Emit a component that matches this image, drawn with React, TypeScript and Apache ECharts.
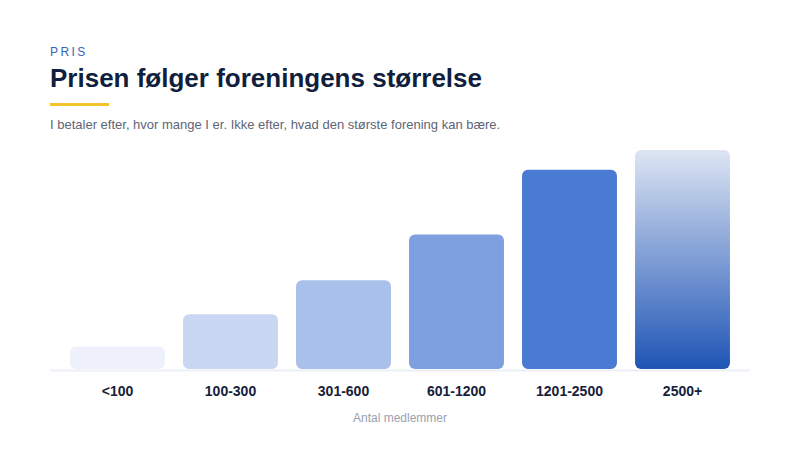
import React, { useEffect, useRef } from "react";
import * as echarts from "echarts";

const categories = ["<100", "100-300", "301-600", "601-1200", "1201-2500", "2500+"];
const values = [10.3, 25, 40.5, 61.4, 91, 100];
const barColors = ["#eef1fb", "#c9d7f2", "#a9c0ea", "#7fa0e0", "#4a7bd2", "gradient"];

const FONT = "Liberation Sans, Helvetica, Arial, sans-serif";

export default function App() {
  const ref = useRef<HTMLDivElement>(null);
  useEffect(() => {
    if (!ref.current) return;
    const chart = echarts.init(ref.current, null, { renderer: "svg" });
    const data = values.map((v, i) => ({
      value: v,
      itemStyle: {
        color:
          barColors[i] === "gradient"
            ? new echarts.graphic.LinearGradient(0, 0, 0, 1, [
                { offset: 0, color: "#dde5f3" },
                { offset: 1, color: "#1f55b5" },
              ])
            : barColors[i],
      },
    }));
    chart.setOption({
      animation: false,
      backgroundColor: "#ffffff",
      grid: { left: 61, right: 61, top: 150, bottom: 81, containLabel: false },
      xAxis: {
        type: "category",
        data: categories,
        axisLine: { show: false },
        axisTick: { show: false },
        axisLabel: {
          margin: 15,
          color: "#16203a",
          fontSize: 14,
          fontWeight: "bold",
          fontFamily: FONT,
        },
        name: "Antal medlemmer",
        nameLocation: "middle",
        nameGap: 43,
        nameTextStyle: { color: "#9aa0ad", fontSize: 12, fontFamily: FONT },
      },
      yAxis: {
        type: "value",
        min: 0,
        max: 100,
        show: false,
        splitLine: { show: false },
      },
      series: [
        {
          type: "bar",
          data,
          barCategoryGap: "16%",
          itemStyle: { borderRadius: 6 },
          z: 3,
        },
      ],
      graphic: [
        {
          type: "line",
          shape: { x1: 50, y1: 370.5, x2: 750, y2: 370.5 },
          style: { stroke: "#eceff5", lineWidth: 2 },
          z: 1,
        },
        {
          type: "text",
          left: 50,
          top: 46,
          style: {
            text: "P\u2009R\u2009I\u2009S",
            fill: "#3565b6",
            font: `12px ${FONT}`,
          },
        },
        {
          type: "text",
          left: 50,
          top: 65,
          style: {
            text: "Prisen følger foreningens størrelse",
            fill: "#0f1f3d",
            font: `bold 26px ${FONT}`,
          },
        },
        {
          type: "rect",
          shape: { x: 50, y: 103, width: 59, height: 3 },
          style: { fill: "#f2c42c" },
        },
        {
          type: "text",
          left: 50,
          top: 118,
          style: {
            text: "I betaler efter, hvor mange I er. Ikke efter, hvad den største forening kan bære.",
            fill: "#5d6577",
            font: `13px ${FONT}`,
          },
        },
      ],
    });
    return () => chart.dispose();
  }, []);
  return (
    <div
      ref={ref}
      style={{ position: "fixed", left: 0, top: 0, width: 800, height: 450 }}
    />
  );
}
